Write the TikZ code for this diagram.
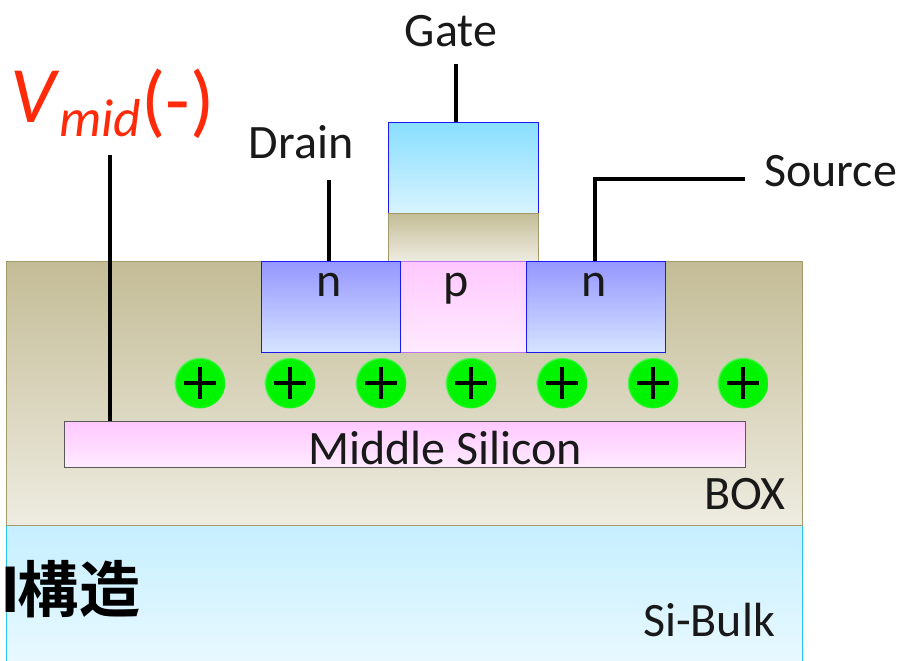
\documentclass[tikz,border=0pt]{standalone}
\usepackage{fontspec}
\setmainfont{Carlito}
\newfontfamily\cjk{Noto Sans CJK JP Bold}
\definecolor{sandA}{HTML}{C4BC96}
\definecolor{sandB}{HTML}{EEECE1}
\definecolor{sandLine}{HTML}{A39A6B}
\definecolor{blueLine}{HTML}{1A1AF0}
\definecolor{vred}{HTML}{FF2A0A}
\definecolor{ballG}{HTML}{00F400}
\definecolor{ballR}{HTML}{80F080}
\definecolor{gateA}{HTML}{88DEFF}
\definecolor{gateB}{HTML}{D8F4FF}
\definecolor{bulkA}{HTML}{C6EFFF}
\definecolor{bulkB}{HTML}{E9F9FF}
\definecolor{bulkLine}{HTML}{2CC4F0}
\definecolor{nA}{HTML}{9696FF}
\definecolor{nB}{HTML}{D6E4FF}
\definecolor{pA}{HTML}{FFC8FF}
\definecolor{pB}{HTML}{FFEAFF}
\pgfdeclareradialshading{ballshade}{\pgfpointorigin}{%
  color(0bp)=(ballG); color(22bp)=(ballG); color(24bp)=(ballG!85!ballR); color(25bp)=(ballR); color(50bp)=(ballR)}
\tikzset{
  x=0.75pt,y=-0.75pt,
  block/.style={rectangle,inner sep=0pt,outer sep=0pt,anchor=north west,line width=0.75pt},
  sand/.style={block,draw=sandLine,top color=sandA,bottom color=sandB},
  nreg/.style={block,draw=blueLine,top color=nA,bottom color=nB},
  preg/.style={block,draw=blue!50!magenta!55!white,top color=pA,bottom color=pB},
  wire/.style={line width=2.6pt,black,line cap=butt,line join=miter},
  lbl/.style={font=\fontsize{36}{36}\selectfont,inner sep=0pt,text=black!90},
  ball/.style={circle,minimum size=51*0.75pt,inner sep=0pt,shading=ballshade,
    path picture={\draw[line width=2.5pt,black]
      ([xshift=-12pt]path picture bounding box.center)--([xshift=12pt]path picture bounding box.center)
      ([yshift=-12pt]path picture bounding box.center)--([yshift=12pt]path picture bounding box.center);}},
}
\begin{document}
\begin{tikzpicture}
\useasboundingbox (0,0) rectangle (902,660);
\begin{scope}
\clip (0,0) rectangle (902,660);
\node[block,draw=bulkLine,top color=bulkA,bottom color=bulkB,minimum width=796*0.75pt,minimum height=140*0.75pt] (bulk) at (6.5,525) {};
\end{scope}
\node[sand,minimum width=796*0.75pt,minimum height=264*0.75pt] (box) at (6.5,261) {};
\node[block,draw=blueLine,top color=gateA,bottom color=gateB,minimum width=150*0.75pt,minimum height=91*0.75pt] (gate) at (388,122) {};
\node[sand,minimum width=150*0.75pt,minimum height=48*0.75pt] (oxide) at (388,213) {};
\node[preg,minimum width=126*0.75pt,minimum height=91*0.75pt] (preg) at (400,261) {};
\node[nreg,minimum width=139*0.75pt,minimum height=91*0.75pt] (ndrain) at (261,261) {};
\node[nreg,minimum width=139*0.75pt,minimum height=91*0.75pt] (nsource) at (526,261) {};
\node[block,draw=black!65,top color=pA,bottom color=pB,minimum width=681*0.75pt,minimum height=46*0.75pt] (mid) at (64,421) {};

\foreach \i/\cx in {1/200,2/290,3/381,4/471,5/562,6/653,7/743}
  \node[ball] (b\i) at (\cx,383) {};

\node[lbl,anchor=base] (tn1) at (329,296) {n};
\node[lbl,anchor=base] (tp) at (456.5,296) {p};
\node[lbl,anchor=base] (tn2) at (594.5,296) {n};
\node[lbl,anchor=base] (tmid) at (445,464) {Middle Silicon};
\node[lbl,anchor=base] (tbox) at (745,509) {BOX};
\node[lbl,anchor=base] (tbulk) at (709,636) {Si-Bulk};
\node[lbl,anchor=base] (tgate) at (451,46) {Gate};
\node[lbl,anchor=base] (tdrain) at (301,158) {Drain};
\node[lbl,anchor=base] (tsource) at (830.5,186) {Source};
\node[anchor=base west,inner sep=0pt,text=vred,font=\fontsize{60}{60}\selectfont] (tv) at (10,122)
  {\textit{V}\raisebox{-11pt}{\fontsize{40}{40}\selectfont\textit{mid}}\raisebox{-4pt}{(-)}};
\node[anchor=base west,inner sep=0pt,font=\fontsize{46}{46}\cjk] (tkozo) at (0,612) {I\kern-2pt 構造};

\coordinate (gs) at (456,64);
\coordinate (ds) at (329,180);
\coordinate (vs) at (110,155);
\coordinate (ss) at (745,179);
\coordinate (sc) at (595,179);
\draw[wire] (gs) -- (gs |- gate.north);
\draw[wire] (ds) -- (ds |- ndrain.north);
\draw[wire] (vs) -- (vs |- mid.north);
\draw[wire] (ss) -- (sc) -- (sc |- nsource.north);
\end{tikzpicture}
\end{document}
